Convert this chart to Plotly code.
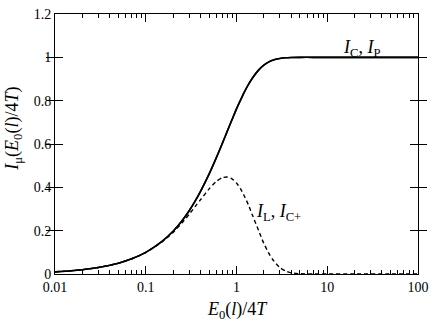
import plotly.graph_objects as go

# Values
x_vals = [0.01, 0.015, 0.02, 0.03, 0.05, 0.07, 0.1, 0.15, 0.2, 0.25, 0.3, 0.35, 0.4, 0.5,
          0.6, 0.7, 0.8, 0.9, 1.0, 1.1, 1.2, 1.35, 1.5, 1.75, 2.0, 2.25, 2.5, 3.0, 3.5,
          4.0, 5.0, 7.0, 10.0, 20.0, 50.0, 100.0]
i_c = [0.010, 0.015, 0.020, 0.030, 0.050, 0.070, 0.100, 0.149, 0.197, 0.245, 0.291, 0.336,
       0.380, 0.462, 0.537, 0.604, 0.664, 0.716, 0.762, 0.800, 0.834, 0.874, 0.905, 0.941,
       0.964, 0.978, 0.987, 0.995, 0.998, 0.999, 1.0, 1.0, 1.0, 1.0, 1.0, 1.0]
i_l = [0.010, 0.015, 0.020, 0.030, 0.050, 0.070, 0.099, 0.147, 0.192, 0.235, 0.275, 0.311,
       0.342, 0.393, 0.427, 0.445, 0.447, 0.438, 0.420, 0.395, 0.366, 0.320, 0.271, 0.201,
       0.141, 0.099, 0.067, 0.030, 0.013, 0.005, 0.001, 0.0, 0.0, 0.0, 0.0, 0.0]

x_ticks = [0.01, 0.1, 1, 10, 100]
x_tick_labels = ["0.01", "0.1", "1", "10", "100"]
y_ticks = [0, 0.2, 0.4, 0.6, 0.8, 1.0, 1.2]
y_tick_labels = ["0", "0.2", "0.4", "0.6", "0.8", "1", "1.2"]

# all x tick positions (decades plus 2..9 within each decade); minor ones unlabeled
all_x_ticks = []
all_x_labels = []
for d, lab in zip(x_ticks, x_tick_labels):
    all_x_ticks.append(d)
    all_x_labels.append(lab)
    if d != x_ticks[-1]:
        for m in range(2, 10):
            all_x_ticks.append(m * d)
            all_x_labels.append("")

fig = go.Figure()
fig.add_trace(go.Scatter(x=x_vals, y=i_c, mode="lines",
                         line=dict(color="black", width=1.6, shape="spline", smoothing=0.6),
                         showlegend=False))
fig.add_trace(go.Scatter(x=x_vals, y=i_l, mode="lines",
                         line=dict(color="black", width=1.4, dash="4px,3px", shape="spline", smoothing=0.6),
                         showlegend=False))
# same curve on overlay axis that carries the longer decade ticks
fig.add_trace(go.Scatter(x=x_vals, y=i_c, xaxis="x2", mode="lines",
                         line=dict(color="black", width=1.6, shape="spline", smoothing=0.6),
                         hoverinfo="skip", showlegend=False))

serif = "Liberation Serif"
fig.add_annotation(x=1.38, y=1.04, xref="x", yref="y", xanchor="center", yanchor="middle",
                   text="<i>I</i><sub>C</sub>, <i>I</i><sub>P</sub>", showarrow=False,
                   font=dict(family=serif, size=18, color="black"))
fig.add_annotation(x=0.46, y=0.285, xref="x", yref="y", xanchor="center", yanchor="middle",
                   text="<i>I</i><sub>L</sub>, <i>I</i><sub>C+</sub>", showarrow=False,
                   font=dict(family=serif, size=18, color="black"))
# axis titles
fig.add_annotation(x=0.504, y=-0.139, xref="paper", yref="paper", xanchor="center", yanchor="middle",
                   text="<i>E</i><sub>0</sub>(<i>l</i>)/4<i>T</i>", showarrow=False,
                   font=dict(family=serif, size=18, color="black"))
fig.add_annotation(x=-0.115, y=0.56, xref="paper", yref="paper", xanchor="center", yanchor="middle",
                   textangle=-90,
                   text="<i>I</i><sub>μ</sub>(<i>E</i><sub>0</sub>(<i>l</i>)/4<i>T</i>)", showarrow=False,
                   font=dict(family=serif, size=18, color="black"))

fig.update_layout(
    width=436, height=327,
    margin=dict(l=55, r=12, t=7, b=53),
    paper_bgcolor="white", plot_bgcolor="white",
    font=dict(family=serif, size=14, color="black"),
    xaxis=dict(type="log", range=[-2, 2], tickmode="array", tickvals=all_x_ticks, ticktext=all_x_labels,
               ticks="inside", ticklen=4, tickwidth=1, tickcolor="black",
               showline=True, linecolor="black", linewidth=1, mirror="allticks",
               showgrid=False, zeroline=False,
               tickfont=dict(family=serif, size=14)),
    xaxis2=dict(type="log", range=[-2, 2], overlaying="x", anchor="y", side="bottom",
                tickmode="array", tickvals=x_ticks, showticklabels=False,
                ticks="inside", ticklen=8, tickwidth=1, tickcolor="black",
                showline=True, linecolor="black", linewidth=1, mirror="allticks",
                showgrid=False, zeroline=False),
    yaxis=dict(range=[0, 1.2], tickmode="array", tickvals=y_ticks, ticktext=y_tick_labels,
               ticks="inside", ticklen=8, tickwidth=1, tickcolor="black",
               showline=True, linecolor="black", linewidth=1, mirror="allticks",
               showgrid=False, zeroline=False,
               tickfont=dict(family=serif, size=14)),
)

fig.write_html("out.html", config={"displayModeBar": False},
               post_script="document.body.style.margin='0';document.body.style.overflow='hidden';")
